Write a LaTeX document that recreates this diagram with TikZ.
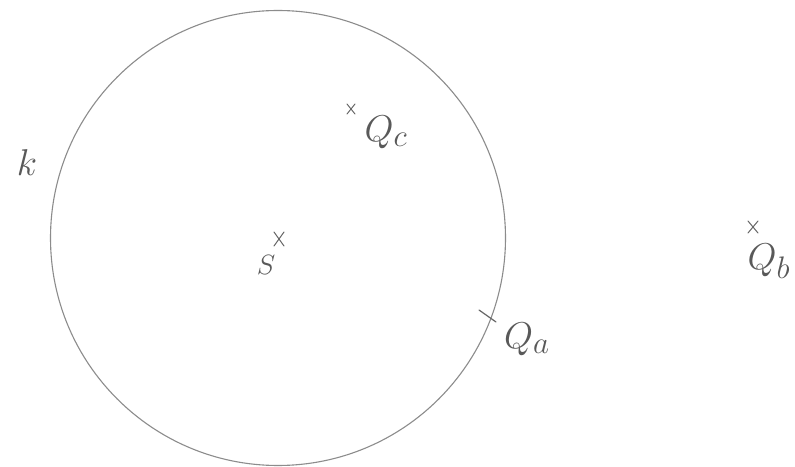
\documentclass[tikz,border=0pt]{standalone}
\usepackage{graphicx}
\usetikzlibrary{calc}
\newcommand{\hwlabel}[2]{\scalebox{#1}{$#2$}}
\begin{document}
\begin{tikzpicture}[x=1pt,y=1pt,
  pen/.style={draw=black!60, line width=1.2pt, line cap=round},
  cross/.style={pen, line width=1pt},
  lbl/.style={text=black!65, font=\Huge, inner sep=0pt}]
\useasboundingbox (0,0) rectangle (795,466);
\fill[white] (0,0) rectangle (795,466);
% circle k
\coordinate (S) at (278,228);
\draw[draw=black!45, line width=1.1pt] (S) circle (227.5);
% center S
\coordinate (Sx) at (279,227);
\draw[cross] ($(Sx)+(-5,-7)$) -- ($(Sx)+(5,7)$) ($(Sx)+(-5,7)$) -- ($(Sx)+(5,-7)$);
\node[lbl] (Slbl) at (266,201) {\hwlabel{1.12}{S}};
% Q_c
\coordinate (Qc) at (351,357);
\draw[cross] ($(Qc)+(-4,-5)$) -- ($(Qc)+(4,5)$) ($(Qc)+(-4,5)$) -- ($(Qc)+(4,-5)$);
\node[lbl] (Qclbl) at (386,334) {\hwlabel{1.5}{Q_c}};
% Q_a on circle
\coordinate (Qa) at (488,150);
\draw[pen] ($(Qa)+(-9,6)$) -- ($(Qa)+(8,-6)$);
\node[lbl] (Qalbl) at (527,127) {\hwlabel{1.5}{Q_a}};
% Q_b outside
\coordinate (Qb) at (753,239);
\draw[cross] ($(Qb)+(-5,-6)$) -- ($(Qb)+(5,6)$) ($(Qb)+(-5,6)$) -- ($(Qb)+(5,-6)$);
\node[lbl] (Qblbl) at (769,205) {\hwlabel{1.5}{Q_b}};
% k label
\node[lbl] (klbl) at (27,303) {\hwlabel{1.5}{k}};
\end{tikzpicture}
\end{document}
